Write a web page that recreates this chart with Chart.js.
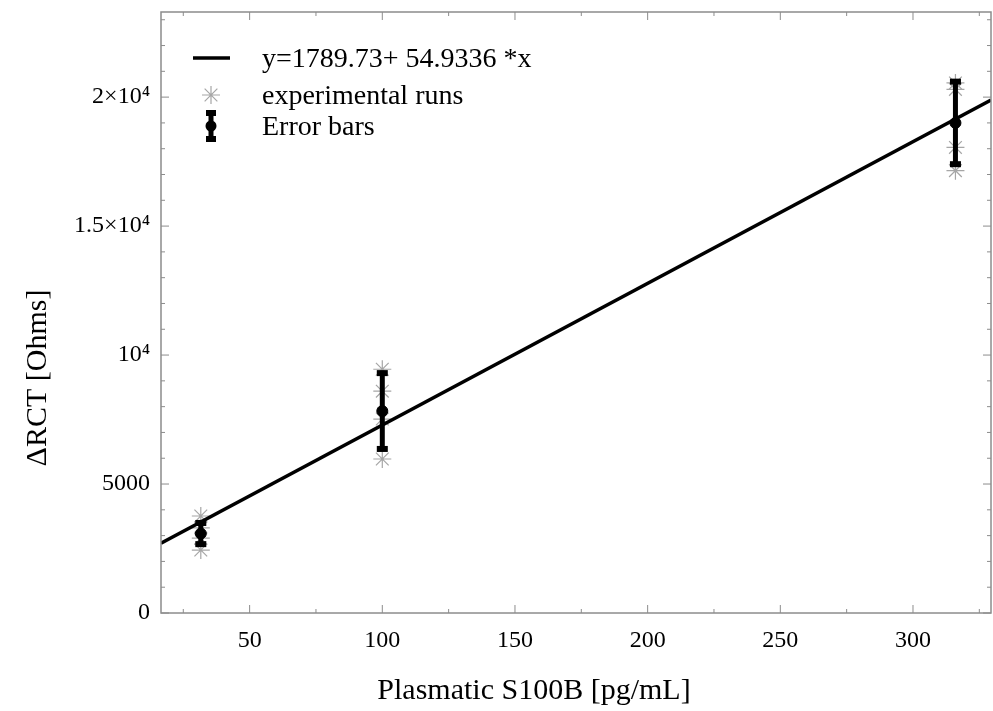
<!DOCTYPE html>
<html>
<head>
<meta charset="utf-8">
<script src="https://cdn.jsdelivr.net/npm/chart.js@4/dist/chart.umd.min.js"></script>
<style>
  html, body { margin: 0; padding: 0; background: #fff; }
  canvas { display: block; }
</style>
</head>
<body>
<canvas id="chart" width="993" height="711"></canvas>
<script>
/* S100B calibration — runs, means +/- error, linear fit */

var CONC  = [31.6, 100, 316];
var RUNS  = [
  [3760, 3300, 2900, 2440],
  [9450, 8600, 7520, 5970],
  [20550, 20300, 18050, 17150]
];
var MEANS = [3080, 7830, 19000];
var ERRS  = [410, 1470, 1600];

/* fit line end points, read at the frame edges */
var FIT_X = [16.6, 329.4];
var FIT_Y = [2702, 19885];

var X_TICKS  = [50, 100, 150, 200, 250, 300];
var Y_TICKS  = [0, 5000, 10000, 15000, 20000];
var Y_LABELS = ['0', '5000', '10\u2074', '1.5\u00d710\u2074', '2\u00d710\u2074'];
var LEGEND   = ['y=1789.73+ 54.9336 *x', 'experimental runs', 'Error bars'];
var X_TITLE  = 'Plasmatic S100B [pg/mL]';
var Y_TITLE  = '\u0394RCT [Ohms]';

var SERIF = '"Liberation Serif", "Times New Roman", serif';
var FRAME = '#8c8c8c';
var STAR  = '#a6a6a6';

var runPts = [];
RUNS.forEach(function (g, i) {
  g.forEach(function (v) { runPts.push({ x: CONC[i], y: v }); });
});

/* frame, inward ticks, error bars, legend and axis titles */
var decor = {
  id: 'decor',
  afterDatasetsDraw: function (chart) {
    var ctx = chart.ctx, a = chart.chartArea;
    var xs = chart.scales.x, ys = chart.scales.y;
    ctx.save();

    /* error bars */
    ctx.strokeStyle = '#000'; ctx.fillStyle = '#000'; ctx.lineWidth = 5;
    CONC.forEach(function (c, i) {
      var px = xs.getPixelForValue(c);
      var t = ys.getPixelForValue(MEANS[i] + ERRS[i]);
      var b = ys.getPixelForValue(MEANS[i] - ERRS[i]);
      ctx.beginPath(); ctx.moveTo(px, t); ctx.lineTo(px, b); ctx.stroke();
      ctx.fillRect(px - 5.5, t - 3, 11, 6);
      ctx.fillRect(px - 5.5, b - 3, 11, 6);
    });

    /* frame */
    ctx.strokeStyle = FRAME; ctx.lineWidth = 1.5;
    ctx.strokeRect(a.left, a.top, a.right - a.left, a.bottom - a.top);

    /* ticks (inside the frame, on all four sides) */
    ctx.lineWidth = 1;
    function tickX(v, len) {
      var p = xs.getPixelForValue(v);
      if (p < a.left || p > a.right) return;
      ctx.beginPath();
      ctx.moveTo(p, a.bottom); ctx.lineTo(p, a.bottom - len);
      ctx.moveTo(p, a.top); ctx.lineTo(p, a.top + len);
      ctx.stroke();
    }
    function tickY(v, len) {
      var p = ys.getPixelForValue(v);
      if (p < a.top || p > a.bottom) return;
      ctx.beginPath();
      ctx.moveTo(a.left, p); ctx.lineTo(a.left + len, p);
      ctx.moveTo(a.right, p); ctx.lineTo(a.right - len, p);
      ctx.stroke();
    }
    for (var x = 25; x <= 325; x += 25) tickX(x, (x % 50 === 0) ? 8 : 4);
    for (var y = 0; y <= 23000; y += 1000) tickY(y, (y % 5000 === 0) ? 8 : 4);

    /* legend */
    var lx = 211, rows = [58, 95, 126];
    ctx.strokeStyle = '#000'; ctx.lineWidth = 3.5;
    ctx.beginPath(); ctx.moveTo(lx - 18, rows[0]); ctx.lineTo(lx + 19, rows[0]); ctx.stroke();

    ctx.strokeStyle = STAR; ctx.lineWidth = 1.2;
    var r = 9;
    ctx.beginPath();
    for (var k = 0; k < 4; k++) {
      var ang = k * Math.PI / 4;
      ctx.moveTo(lx - r * Math.cos(ang), rows[1] - r * Math.sin(ang));
      ctx.lineTo(lx + r * Math.cos(ang), rows[1] + r * Math.sin(ang));
    }
    ctx.stroke();

    ctx.strokeStyle = '#000'; ctx.fillStyle = '#000'; ctx.lineWidth = 5;
    ctx.beginPath(); ctx.moveTo(lx, rows[2] - 13); ctx.lineTo(lx, rows[2] + 13); ctx.stroke();
    ctx.fillRect(lx - 5, rows[2] - 16, 10, 6);
    ctx.fillRect(lx - 5, rows[2] + 10, 10, 6);
    ctx.beginPath(); ctx.arc(lx, rows[2], 5.5, 0, Math.PI * 2); ctx.fill();

    ctx.font = '28px ' + SERIF; ctx.fillStyle = '#000';
    ctx.textAlign = 'left'; ctx.textBaseline = 'middle';
    LEGEND.forEach(function (s, i) { ctx.fillText(s, 262, rows[i] + 2); });

    /* axis titles */
    ctx.textAlign = 'center'; ctx.textBaseline = 'middle';
    ctx.font = '30px ' + SERIF;
    ctx.fillText(X_TITLE, 534, 691);
    ctx.translate(38, 378); ctx.rotate(-Math.PI / 2);
    ctx.font = '30px ' + SERIF;
    ctx.fillText(Y_TITLE, 0, 0);

    ctx.restore();
  }
};

new Chart(document.getElementById('chart'), {
  type: 'scatter',
  data: {
    datasets: [
      { label: LEGEND[0], type: 'line', data: FIT_X.map(function (x, i) { return { x: x, y: FIT_Y[i] }; }),
        borderColor: '#000', borderWidth: 3.5, pointRadius: 0, fill: false, order: 2 },
      { label: LEGEND[1], data: runPts, pointStyle: 'star', pointRadius: 9,
        borderColor: STAR, backgroundColor: STAR, pointBorderWidth: 1.2, order: 3 },
      { label: LEGEND[2], data: CONC.map(function (c, i) { return { x: c, y: MEANS[i] }; }),
        pointStyle: 'circle', pointRadius: 5.5, borderColor: '#000', backgroundColor: '#000', order: 1 }
    ]
  },
  options: {
    responsive: false,
    animation: false,
    layout: { autoPadding: false, padding: { left: 0, right: 2, top: 12, bottom: 0 } },
    plugins: { legend: { display: false }, tooltip: { enabled: false } },
    scales: {
      x: {
        type: 'linear', min: 16.6, max: 329.4,
        grid: { display: false, drawTicks: false }, border: { display: false },
        afterBuildTicks: function (s) { s.ticks = X_TICKS.map(function (v) { return { value: v }; }); },
        afterFit: function (s) { s.height = 98; s.paddingLeft = 0; s.paddingRight = 0; },
        ticks: { color: '#000', padding: 13, font: { family: SERIF, size: 24 }, maxRotation: 0 }
      },
      y: {
        type: 'linear', min: 0, max: 23300,
        grid: { display: false, drawTicks: false }, border: { display: false },
        afterBuildTicks: function (s) { s.ticks = Y_TICKS.map(function (v) { return { value: v }; }); },
        afterFit: function (s) { s.width = 161; s.paddingTop = 0; s.paddingBottom = 0; },
        ticks: { color: '#000', padding: 11, font: { family: SERIF, size: 24 },
                 callback: function (v) { var i = Y_TICKS.indexOf(v); return i < 0 ? '' : Y_LABELS[i]; } }
      }
    }
  },
  plugins: [decor]
});
</script>
</body>
</html>
